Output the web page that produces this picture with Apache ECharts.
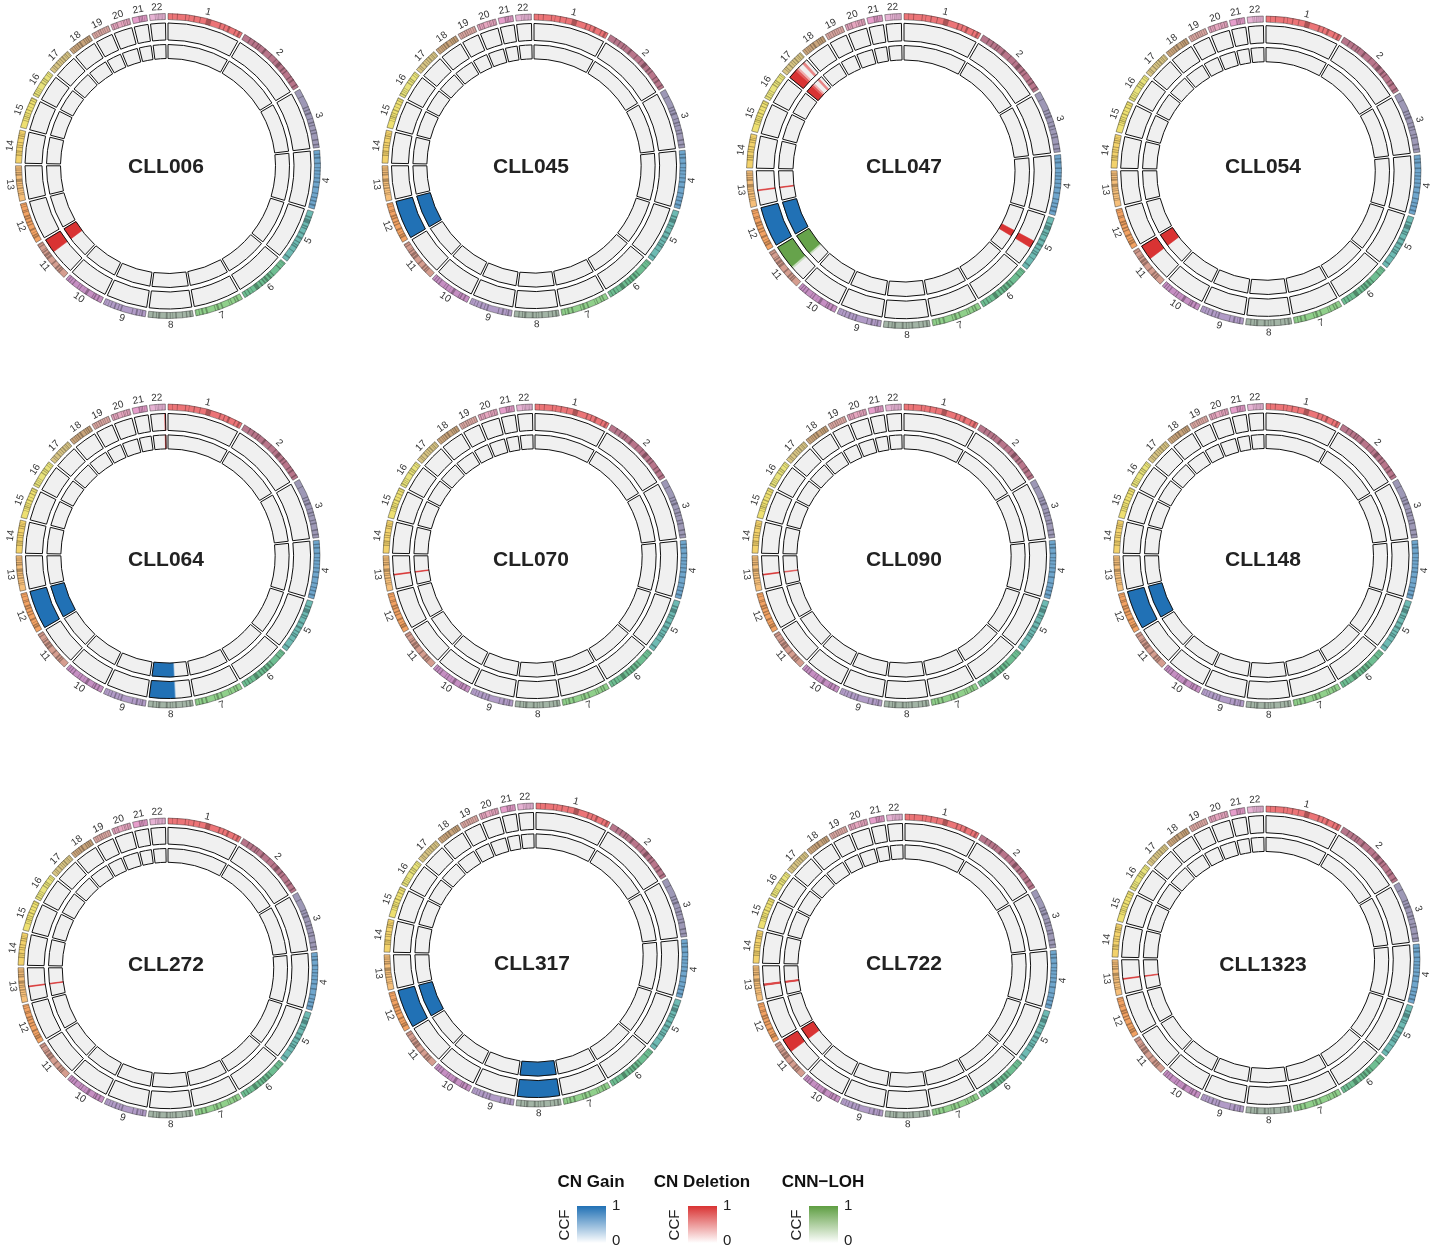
<!DOCTYPE html>
<html>
<head>
<meta charset="utf-8">
<script src="https://cdn.jsdelivr.net/npm/echarts@6/dist/echarts.min.js"></script>
<style>
  html, body { margin: 0; background: #fff; }
  #main { width: 1443px; height: 1254px; }
</style>
</head>
<body>
<div id="main"></div>
<script>
// chromosomes (hg19, Mb)
var chrNames = ['1','2','3','4','5','6','7','8','9','10','11','12','13','14','15','16','17','18','19','20','21','22'];
var chrLength = [249.25,243.20,198.02,191.15,180.92,171.12,159.14,146.36,141.21,135.53,135.01,133.85,
                 115.17,107.35,102.53,90.35,81.20,78.08,59.13,63.03,48.13,51.30];
var chrColor = ['#EC7477','#B8758A','#9D98B6','#6FA6CD','#6DBAB3','#6EBE92','#90D08B','#A2B4A5','#B19BC7','#C58EC2','#D59D8F',
                '#F2A263','#F6BF7A','#F3D26B','#EEE071','#E8E27B','#D8C585','#C9A47B','#D7A5A0','#E6A6BF','#E69ECB','#E7B3D4'];
// darker cytoband stripes, Mb
var chrBands = [
  [[14,16],[29,32],[56,59],[68,70],[84,88],[104,107],[125,142],[171,176],[186,190],[200,207],[224,228],[236,243]],
  [[21,25],[37,41],[52,56],[61,64],[79,86],[107,110],[128,131],[141,153],[164,170],[177,181],[200,204],[212,218],[231,236]],
  [[23,26],[60,64],[70,74],[80,87],[100,103],[112,117],[123,126],[138,142],[148,153],[170,175],[185,190]],
  [[11,15],[21,27],[40,45],[55,58],[65,69],[76,79],[88,92],[101,106],[118,123],[138,142],[152,156],[163,168],[176,182]],
  [[18,23],[28,42],[50,55],[58,62],[75,81],[91,98],[107,111],[118,122],[125,130],[142,145],[165,170]],
  [[4,6],[12,13],[22,26],[52,56],[62,70],[76,84],[88,93],[100,105],[113,126],[138,140],[148,152],[160,163]],
  [[12,17],[21,25],[35,38],[43,45],[67,72],[80,87],[92,95],[119,125],[133,139],[145,148],[154,155]],
  [[6,12],[19,23],[33,36],[53,58],[65,67],[73,76],[83,89],[107,114],[118,121],[129,133]],
  [[9,14],[18,20],[27,33],[43,46],[79,84],[90,93],[101,106],[115,118],[125,127],[134,135]],
  [[12,17],[24,29],[32,35],[52,61],[69,70],[80,83],[89,91],[107,111],[118,121],[126,129]],
  [[21,25],[27,32],[36,42],[55,60],[77,85],[88,97],[102,107],[110,112],[123,127],[131,133]],
  [[13,19],[21,26],[31,33],[40,46],[58,62],[67,72],[79,84],[87,93],[103,106],[108,111],[121,123],[128,130]],
  [[19,21],[24,27],[32,34],[39,44],[49,52],[55,58],[62,73],[83,89],[91,95],[99,103],[106,109]],
  [[24,28],[32,35],[37,41],[50,53],[57,60],[66,69],[80,83],[87,91],[94,96],[99,100]],
  [[24,26],[31,33],[36,40],[43,45],[49,52],[59,63],[71,73],[82,85],[92,95],[99,101]],
  [[6,10],[15,17],[20,22],[27,29],[47,51],[56,59],[62,66],[77,79],[84,86]],
  [[10,12],[16,19],[28,32],[38,40],[45,48],[53,58],[63,65],[68,71],[76,78]],
  [[7,9],[15,17],[21,23],[28,32],[37,43],[53,56],[60,63],[66,70],[74,76]],
  [[7,9],[13,15],[21,24],[28,31],[36,38],[42,44],[50,52],[57,58]],
  [[5,9],[13,15],[18,22],[33,35],[40,43],[45,47],[51,55],[58,60]],
  [[20,25],[27,30],[31,35],[38,40],[42,43],[45,46]],
  [[17,19],[23,25],[28,30],[32,33],[36,38],[40,42],[46,48]]
];

var samples = ['CLL006','CLL045','CLL047','CLL054','CLL064','CLL070','CLL090','CLL148','CLL272','CLL317','CLL722','CLL1323'];

// [sample, track (1 outer, 2 inner), chr, start Mb, end Mb, CCF]
var gainEvents = [
  ['CLL045',1,12,0,133.85,1], ['CLL045',2,12,0,133.85,1],
  ['CLL047',1,12,0,133.85,1], ['CLL047',2,12,0,133.85,1],
  ['CLL064',1,12,0,133.85,1], ['CLL064',2,12,0,133.85,1],
  ['CLL064',1,8,56,59,0.5], ['CLL064',1,8,59,146.36,1],
  ['CLL064',2,8,56,59,0.5], ['CLL064',2,8,59,146.36,1],
  ['CLL148',1,12,0,133.85,1], ['CLL148',2,12,0,133.85,1],
  ['CLL317',1,12,0,133.85,1], ['CLL317',2,12,0,133.85,1],
  ['CLL317',1,8,0,146.36,1], ['CLL317',2,8,0,146.36,1]
];
var delEvents = [
  ['CLL006',1,11,86,135.01,1], ['CLL006',2,11,86,135.01,1],
  ['CLL047',1,17,0,30,1], ['CLL047',1,17,30,38,0.8], ['CLL047',1,17,38,44,0.4], ['CLL047',1,17,62,70,0.6],
  ['CLL047',2,17,0,28,1], ['CLL047',2,17,28,36,0.8], ['CLL047',2,17,36,42,0.4], ['CLL047',2,17,61,69,0.6],
  ['CLL047',1,13,48.5,51.5,1], ['CLL047',2,13,48.5,51.5,1],
  ['CLL047',1,5,93,117,1], ['CLL047',2,5,93,117,1],
  ['CLL054',1,11,84,135.01,1], ['CLL054',2,11,84,135.01,1],
  ['CLL064',1,22,48.5,51.3,1], ['CLL064',2,22,48.5,51.3,1],
  ['CLL070',1,13,48.5,51.5,1], ['CLL070',2,13,48.5,51.5,1],
  ['CLL090',1,13,48.5,51.5,1], ['CLL090',2,13,48.5,51.5,0.85],
  ['CLL272',1,13,48.5,51.5,1], ['CLL272',2,13,48.5,51.5,1],
  ['CLL722',1,13,47.5,49,1], ['CLL722',1,13,51,52.5,1],
  ['CLL722',2,13,47.5,49,1], ['CLL722',2,13,51,52.5,1],
  ['CLL722',1,11,86,135.01,1], ['CLL722',2,11,86,135.01,1],
  ['CLL1323',1,13,48.5,51.5,1], ['CLL1323',2,13,48.5,51.5,1]
];
var lohEvents = [
  ['CLL047',1,11,49,56,0.35], ['CLL047',1,11,56,135.01,0.95],
  ['CLL047',2,11,45,52,0.35], ['CLL047',2,11,52,135.01,0.95]
];

var typeColor = { gain: [33,113,181], del: [217,51,51], loh: [94,158,66] };

// layout (px)
var panelCenter = [[168,166],[534,166],[904,171],[1266,171],[168,556],[535,556],[904,556],[1266,556],
                   [168,968],[536,955],[905,966],[1266,960]];
var panelRadius = [152.5,152,157.5,155,152,152,152,152.5,150,152,152,154];
var titlePos = [[166,167],[531,167],[904,167],[1263,167],[166,560],[531,560],[904,560],[1263,560],
                [166,965],[532,964],[904,964],[1263,965]];

var FONT = '"Liberation Sans", Arial, Helvetica, sans-serif';
var R_MAX = 160, R_REF = 152.5;
var IDEO = [146.5, 152.5], TRACK = { 1: [126, 143], 2: [107.5, 121.5] }, LABEL_R = 159;

var total = chrLength.reduce(function (a, b) { return a + b; }, 0);
var GAP = total / 338; // one degree of gap after each chromosome
var offsets = [];
var acc = 0;
for (var i = 0; i < chrLength.length; i++) { offsets.push(acc); acc += chrLength[i] + GAP; }
var AXIS_MAX = acc;

function shade(rgb, ccf) {
  var c = rgb.map(function (v) { return Math.round(255 + (v - 255) * ccf); });
  return 'rgb(' + c.join(',') + ')';
}
function darken(hex, k) {
  var n = parseInt(hex.slice(1), 16);
  var c = [(n >> 16) & 255, (n >> 8) & 255, n & 255].map(function (v) { return Math.round(v * (1 - k)); });
  return 'rgb(' + c.join(',') + ')';
}

function buildItems(name) {
  var items = [];
  for (var c = 0; c < 22; c++) {
    items.push({ chr: c, s: 0, e: chrLength[c], r0: IDEO[0], r1: IDEO[1], fill: chrColor[c] });
    chrBands[c].forEach(function (b) {
      items.push({ chr: c, s: b[0], e: b[1], r0: IDEO[0], r1: IDEO[1], fill: darken(chrColor[c], 0.28) });
    });
    items.push({ chr: c, s: 0, e: chrLength[c], r0: IDEO[0], r1: IDEO[1], fill: 'none', stroke: 'rgba(40,40,40,0.75)', lw: 0.6 });
  }
  [1, 2].forEach(function (t) {
    for (var c = 0; c < 22; c++) {
      items.push({ chr: c, s: 0, e: chrLength[c], r0: TRACK[t][0], r1: TRACK[t][1], fill: '#F0F0F0' });
    }
  });
  [['gain', gainEvents], ['del', delEvents], ['loh', lohEvents]].forEach(function (g) {
    g[1].forEach(function (ev) {
      if (ev[0] !== name) return;
      var c = ev[2] - 1;
      var col = shade(typeColor[g[0]], ev[5]);
      items.push({ chr: c, s: ev[3], e: ev[4], r0: TRACK[ev[1]][0], r1: TRACK[ev[1]][1], fill: col, stroke: col, lw: 0.6 });
    });
  });
  [1, 2].forEach(function (t) {
    for (var c = 0; c < 22; c++) {
      items.push({ chr: c, s: 0, e: chrLength[c], r0: TRACK[t][0], r1: TRACK[t][1], fill: 'none', stroke: '#111', lw: 1 });
    }
  });
  for (var c = 0; c < 22; c++) items.push({ label: chrNames[c], chr: c });
  return items;
}

var panelItems = samples.map(buildItems);

function renderItem(params, api) {
  var it = panelItems[params.seriesIndex][params.dataIndex];
  var cs = params.coordSys;
  if (it.label) {
    var p = api.coord([LABEL_R, offsets[it.chr] + chrLength[it.chr] / 2]);
    var theta = Math.atan2(-(p[1] - cs.cy), p[0] - cs.cx);
    var rot = Math.sin(theta) < 0 ? theta + Math.PI / 2 : theta - Math.PI / 2;
    return {
      type: 'text', x: p[0], y: p[1], rotation: rot, silent: true,
      style: { text: it.label, fill: '#333', font: '10px ' + FONT, align: 'center', verticalAlign: 'middle' }
    };
  }
  var a = offsets[it.chr] + it.s, b = offsets[it.chr] + it.e;
  var pa = api.coord([it.r1, a]), pb = api.coord([it.r1, b]), pc = api.coord([it.r0, a]);
  var a0 = Math.atan2(pa[1] - cs.cy, pa[0] - cs.cx);
  var a1 = Math.atan2(pb[1] - cs.cy, pb[0] - cs.cx);
  while (a1 < a0) a1 += 2 * Math.PI;
  return {
    type: 'sector', silent: true,
    shape: {
      cx: cs.cx, cy: cs.cy,
      r0: Math.hypot(pc[0] - cs.cx, pc[1] - cs.cy),
      r: Math.hypot(pa[0] - cs.cx, pa[1] - cs.cy),
      startAngle: a0, endAngle: a1, clockwise: true
    },
    style: { fill: it.fill, stroke: it.stroke || null, lineWidth: it.lw || 0 }
  };
}

var polar = [], angleAxis = [], radiusAxis = [], series = [];
samples.forEach(function (name, i) {
  polar.push({ center: panelCenter[i], radius: [0, R_MAX * panelRadius[i] / R_REF] });
  angleAxis.push({
    polarIndex: i, type: 'value', min: 0, max: AXIS_MAX, startAngle: 90, clockwise: true,
    axisLine: { show: false }, axisTick: { show: false }, axisLabel: { show: false }, splitLine: { show: false }
  });
  radiusAxis.push({
    polarIndex: i, type: 'value', min: 0, max: R_MAX,
    axisLine: { show: false }, axisTick: { show: false }, axisLabel: { show: false }, splitLine: { show: false }
  });
  series.push({
    type: 'custom', coordinateSystem: 'polar', polarIndex: i,
    renderItem: renderItem,
    data: panelItems[i].map(function () { return [0, 0]; })
  });
});

// titles and legend
var graphic = samples.map(function (name, i) {
  return {
    type: 'text', x: titlePos[i][0], y: titlePos[i][1], silent: true,
    style: { text: name, font: 'bold 21px ' + FONT, fill: '#222', align: 'center', verticalAlign: 'middle' }
  };
});
var legendItems = [
  { title: 'CN Gain', color: shade(typeColor.gain, 1), tx: 591, box: 577, ccf: 565 },
  { title: 'CN Deletion', color: shade(typeColor.del, 1), tx: 702, box: 688, ccf: 675 },
  { title: 'CNN\u2212LOH', color: shade(typeColor.loh, 1), tx: 823, box: 809, ccf: 797 }
];
legendItems.forEach(function (l) {
  graphic.push({ type: 'text', x: l.tx, y: 1182, silent: true,
    style: { text: l.title, font: 'bold 17px ' + FONT, fill: '#111', align: 'center', verticalAlign: 'middle' } });
  graphic.push({ type: 'rect', x: l.box, y: 1206, silent: true, shape: { width: 29, height: 37 },
    style: { fill: { type: 'linear', x: 0, y: 0, x2: 0, y2: 1, colorStops: [{ offset: 0, color: l.color }, { offset: 1, color: '#ffffff' }] } } });
  graphic.push({ type: 'text', x: l.ccf, y: 1225, rotation: Math.PI / 2, silent: true,
    style: { text: 'CCF', font: '15px ' + FONT, fill: '#222', align: 'center', verticalAlign: 'middle' } });
  graphic.push({ type: 'text', x: l.box + 35, y: 1206, silent: true,
    style: { text: '1', font: '15px ' + FONT, fill: '#222', align: 'left', verticalAlign: 'middle' } });
  graphic.push({ type: 'text', x: l.box + 35, y: 1241, silent: true,
    style: { text: '0', font: '15px ' + FONT, fill: '#222', align: 'left', verticalAlign: 'middle' } });
});

var chart = echarts.init(document.getElementById('main'));
chart.setOption({
  animation: false,
  backgroundColor: '#fff',
  polar: polar,
  angleAxis: angleAxis,
  radiusAxis: radiusAxis,
  series: series,
  graphic: graphic
});
</script>
</body>
</html>
